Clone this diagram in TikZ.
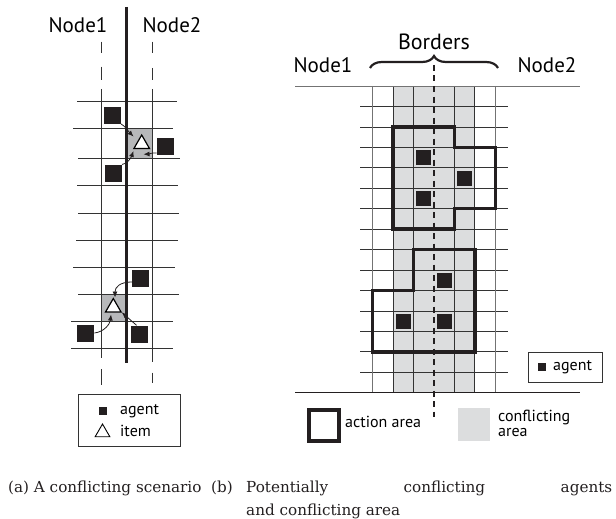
\documentclass[tikz,border=0pt]{standalone}
\usepackage{fontspec}
\setmainfont{PT Sans}
\newfontfamily\capserif{DejaVu Serif}
\usetikzlibrary{arrows.meta,shapes.geometric,decorations.pathreplacing}
\newcommand\capfont{\capserif\fontsize{15.2}{18}\selectfont}
\definecolor{agentc}{HTML}{231F20}
\definecolor{confl}{HTML}{DCDDDE}
\definecolor{cellc}{HTML}{B7B8BA}
\tikzset{
  gridl/.style={draw=black!80, line width=0.9pt},
  gridr/.style={draw=black!80, line width=0.8pt},
  agent/.style={rectangle, fill=agentc, draw=none, minimum size=17pt, inner sep=0pt},
  ragent/.style={rectangle, fill=agentc, draw=none, minimum size=15pt, inner sep=0pt},
  lagent/.style={rectangle, fill=agentc, draw=none, minimum size=8pt, inner sep=0pt},
  item/.style={regular polygon, regular polygon sides=3, draw=black, fill=white, line width=1.2pt, minimum size=18pt, inner sep=0pt},
  litem/.style={regular polygon, regular polygon sides=3, draw=black, fill=white, line width=0.9pt, minimum size=17pt, inner sep=0pt},
  arr/.style={line width=0.8pt, draw=agentc, -{Latex[length=6pt,width=5pt]}},
  action/.style={draw=agentc, line width=3.5pt, line join=miter},
  lbl/.style={font=\fontsize{21}{24}\selectfont, inner sep=0pt},
  leg/.style={font=\fontsize{16}{14}\selectfont, inner sep=0pt, anchor=base west},
  vdash/.style={draw=black!80, line width=0.9pt},
  captext/.style={anchor=base west, inner sep=0pt, font=\capfont, text=agentc},
}
\begin{document}
\begin{tikzpicture}[x=1pt,y=-1pt]
\useasboundingbox (0,0) rectangle (616,519);
% ---------------- left diagram (a)
\fill[cellc] (127.5,128.3) rectangle (152.7,158.3);
\fill[cellc] (101,294.3) rectangle (126,321.7);
\foreach \y/\a/\b in {101/77/177, 128.3/73/173, 158.3/78/180, 185.7/77/178, 213/78/179, 240/76/178, 267.3/73/175, 294.3/78/179, 321.7/71/173, 348.3/71/173}
  \draw[gridl] (\a,\y) -- (\b,\y);
\draw[gridl] (101,89) -- (101,358);
\draw[gridl] (152.7,89) -- (152.7,362);
\draw[vdash] (101,41.7) -- (101,53.3) (101,66.7) -- (101,80) (101,369) -- (101,385);
\draw[vdash] (152.7,41.7) -- (152.7,53.3) (152.7,68) -- (152.7,80) (152.7,372.7) -- (152.7,383);
\draw[draw=agentc, line width=3pt] (126.7,7) -- (126.7,363);
\node[lbl] (ln1) at (78,25) {Node1};
\node[lbl] (ln2) at (172,25) {Node2};
\node[item] (t1) at (141.7,144) {};
\node[item] (t2) at (113.3,307.5) {};
\node[agent] (a1) at (112.3,115.2) {};
\node[agent] (a2) at (165.3,146.5) {};
\node[agent] (a3) at (113.3,173.2) {};
\node[agent] (b1) at (140.5,278.8) {};
\node[agent] (b2) at (85.7,333) {};
\node[agent] (b3) at (139.7,334) {};
\coordinate (t1a) at (133.5,136.5);
\coordinate (t1b) at (143.5,154.3);
\coordinate (t1c) at (133.5,151);
\coordinate (t2a) at (115,297.5);
\coordinate (t2b) at (111,314.5);
\coordinate (t2c) at (121.7,312.3);
\draw[arr] (a1.south east) .. controls (125,126) and (129,132) .. (t1a);
\draw[arr] (a2.217) .. controls (152,152.5) and (149,154) .. (t1b);
\draw[arr] (a3.north east) .. controls (127,164) and (131,158) .. (t1c);
\draw[arr] (b1.200) .. controls (120,282) and (115,287) .. (t2a);
\draw[arr] (b2.east) .. controls (104,332) and (110,324) .. (t2b);
\draw[arr] (b3.110) -- (t2c);
% legend (a)
\node[draw=black!80, line width=0.8pt, minimum width=101.7pt, minimum height=52.7pt, inner sep=0pt] (lega) at (129.15,420.35) {};
\node[lagent] (lgag) at (103,411) {};
\node[litem] (lgit) at (102.5,432.5) {};
\node[leg] (lgat) at (120,414.5) {agent};
\node[leg] (lgit2) at (120,436) {item};
% ---------------- right diagram (b)
\begin{scope}[shift={(372.7,86)},x=20.43pt,y=-20.45pt]
\fill[confl] (1,0) rectangle (5,15);
\foreach \r in {1,...,14} \draw[gridr] (-0.62,\r) -- (6.63,\r);
\foreach \c in {0,6} \draw[gridr, draw=black!55] (\c,0) -- (\c,15);
\foreach \c in {1,2,4,5} \draw[gridr] (\c,0) -- (\c,15);
\draw[action] (1,2) -- (4,2) -- (4,3) -- (6,3) -- (6,6) -- (4,6) -- (4,7) -- (1,7) -- cycle;
\draw[action] (2,8) -- (5,8) -- (5,13) -- (0,13) -- (0,10) -- (2,10) -- cycle;
\node[ragent] (r1) at (2.5,3.5) {};
\node[ragent] (r2) at (4.5,4.5) {};
\node[ragent] (r3) at (2.5,5.5) {};
\node[ragent] (r4) at (3.5,9.5) {};
\node[ragent] (r5) at (1.5,11.5) {};
\node[ragent] (r6) at (3.5,11.5) {};
\end{scope}
\draw[draw=black!55, line width=0.9pt] (295,86) -- (580,86);
\draw[draw=agentc, line width=0.9pt] (295,392.75) -- (580,392.75);
\draw[draw=agentc, line width=1.1pt, dash pattern=on 6pt off 4.5pt] (434,65) -- (434,417);
\draw[draw=agentc, line width=2.2pt, decorate, decoration={brace, amplitude=12pt}] (370,68) -- (498,68);
\node[lbl, font=\fontsize{22}{25}\selectfont] (bord) at (434,42) {Borders};
\node[lbl] (rn1) at (323,65) {Node1};
\node[lbl] (rn2) at (547,65) {Node2};
% legend (b)
\node[draw=black!80, line width=0.8pt, minimum width=74.4pt, minimum height=30pt, inner sep=0pt] (legb) at (565.5,367.3) {};
\node[lagent] (rlag) at (542,367) {};
\node[leg] (rlat) at (553,370.5) {agent};
\node[draw=agentc, line width=4pt, minimum width=30.3pt, minimum height=31pt, inner sep=0pt] (actsq) at (323.85,425.8) {};
\node[leg] (actt) at (345,427) {action area};
\node[fill=confl, minimum width=31.7pt, minimum height=32.4pt, inner sep=0pt] (consq) at (474.15,424.5) {};
\node[leg] (cont1) at (498,421.5) {conflicting};
\node[leg] (cont2) at (498,436.5) {area};
% captions
\node[captext] (capa) at (8,492) {(a) A conflicting scenario};
\node[captext] (capb) at (211,492) {(b)};
\node[captext] (capb1) at (246,492) {\makebox[366pt][s]{Potentially conflicting agents}};
\node[captext] (capb2) at (246,515) {and conflicting area};
\end{tikzpicture}
\end{document}
